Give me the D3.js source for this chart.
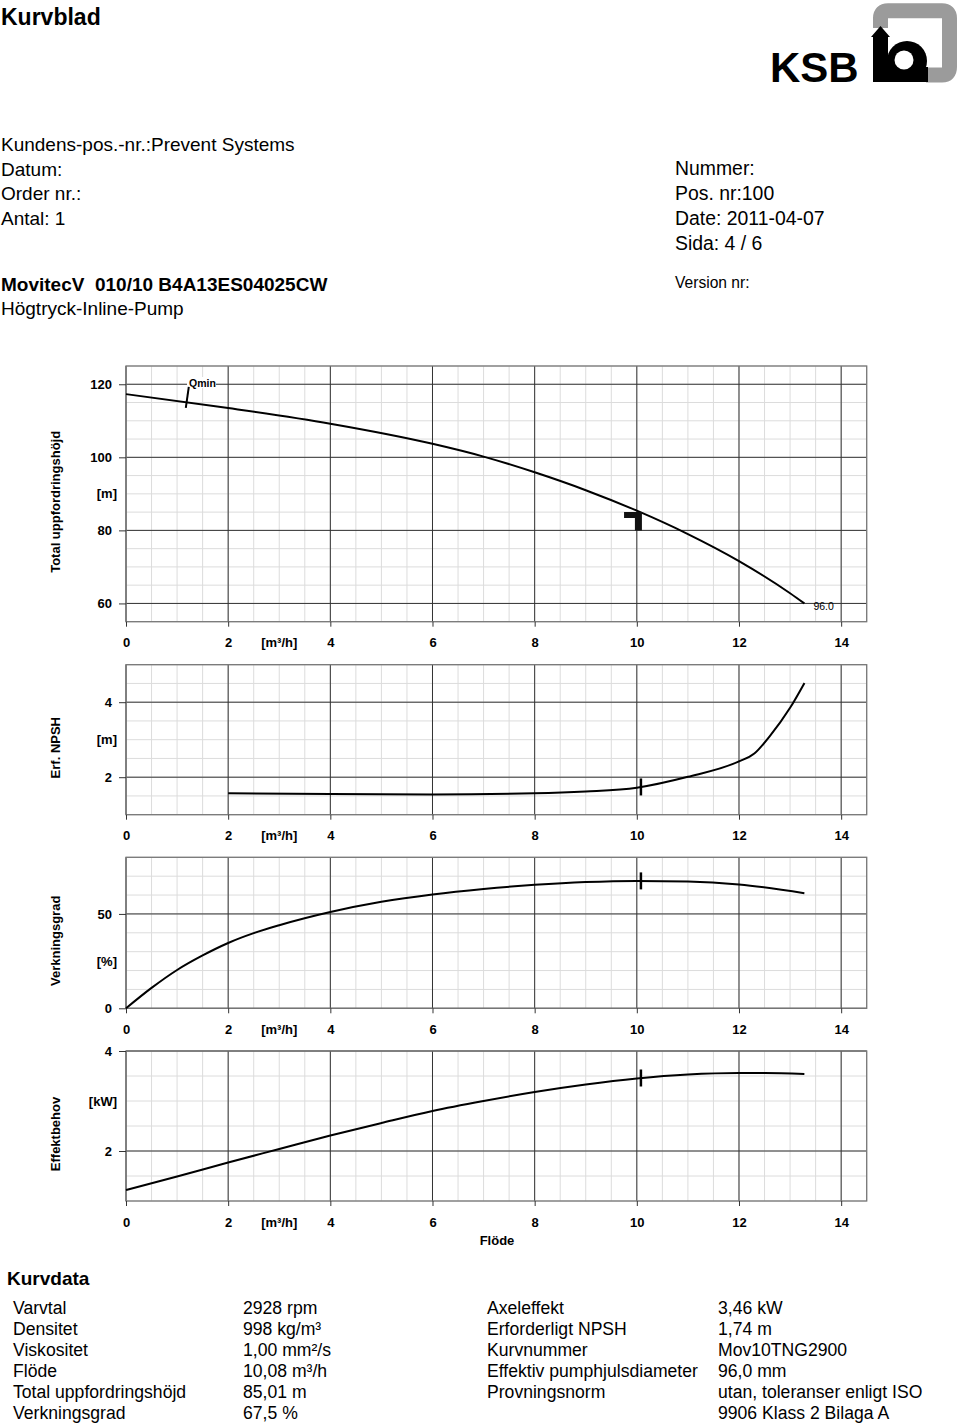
<!DOCTYPE html>
<html>
<head>
<meta charset="utf-8">
<script src="https://cdn.jsdelivr.net/npm/d3@7"></script>
<style>
  body { margin: 0; background: #fff; }
  svg text { font-family: "Liberation Sans", Arial, sans-serif; fill: #000; }
</style>
</head>
<body>
<svg id="sheet" width="960" height="1427"></svg>
<script>
// Flöde [m3/h] och kurvvärden avlästa från kurvbladet
const headQ = [0, 2, 4, 6, 7, 8, 9, 10, 11, 12, 13, 13.28];
const headH = [117.3, 113.5, 109.2, 103.7, 100.2, 95.9, 91.0, 85.4, 79.0, 71.6, 62.8, 60.0];

const npshQ = [2, 4, 6, 8, 9, 10, 11, 12, 12.3, 12.6, 13, 13.28];
const npshV = [1.57, 1.55, 1.54, 1.57, 1.62, 1.72, 2.01, 2.42, 2.63, 3.09, 3.85, 4.51];

const effQ = [0, 0.5, 1, 1.5, 2, 2.5, 3, 4, 5, 6, 7, 8, 9, 10, 11, 12, 13.28];
const effV = [0, 10.8, 20.3, 28.0, 34.6, 39.8, 44.0, 51.0, 56.4, 60.3, 63.2, 65.4, 66.9, 67.5, 67.2, 65.6, 61.0];

const powQ = [0, 1, 2, 3, 4, 5, 6, 7, 8, 9, 10, 11, 12, 12.5, 13.28];
const powV = [1.22, 1.49, 1.77, 2.04, 2.31, 2.56, 2.80, 3.00, 3.18, 3.33, 3.45, 3.53, 3.56, 3.56, 3.54];

// driftpunkt
const opQ = 10.08;
const opValues = { head: 85.01, npsh: 1.74, eff: 67.5, pow: 3.46 };
const tolQ = 9.75, tolH = 80.0;
const qmin = 1.2;
const diameterLabel = "96.0";

const flowTicks = [0, 2, 4, 6, 8, 10, 12, 14];
const flowUnit = "[m³/h]";

const headerLeft = ["Kundens-pos.-nr.:Prevent Systems", "Datum:", "Order nr.:", "Antal: 1"];
const headerRight = ["Nummer:", "Pos. nr:100", "Date: 2011-04-07", "Sida: 4 / 6"];

const tableLabelsL = ["Varvtal", "Densitet", "Viskositet", "Flöde", "Total uppfordringshöjd", "Verkningsgrad"];
const tableValuesL = ["2928 rpm", "998 kg/m³", "1,00 mm²/s", "10,08 m³/h", "85,01 m", "67,5 %"];
const tableLabelsR = ["Axeleffekt", "Erforderligt NPSH", "Kurvnummer", "Effektiv pumphjulsdiameter", "Provningsnorm", ""];
const tableValuesR = ["3,46 kW", "1,74 m", "Mov10TNG2900", "96,0 mm", "utan, toleranser enligt ISO", "9906 Klass 2 Bilaga A"];

const svg = d3.select("#sheet");

// ---- rubrik
svg.append("text").attr("x", 1).attr("y", 25)
    .attr("font-size", 23).attr("font-weight", "bold").text("Kurvblad");

headerLeft.forEach((t, i) => {
    svg.append("text").attr("x", 1).attr("y", 151 + i * 24.6)
        .attr("font-size", 19).text(t);
});
headerRight.forEach((t, i) => {
    svg.append("text").attr("x", 675).attr("y", 175 + i * 25)
        .attr("font-size", 19.4).text(t);
});
svg.append("text").attr("x", 675).attr("y", 288)
    .attr("font-size", 15.6).text("Version nr:");

svg.append("text").attr("x", 1).attr("y", 291)
    .attr("font-size", 19).attr("font-weight", "bold")
    .attr("xml:space", "preserve").text("MovitecV  010/10 B4A13ES04025CW");
svg.append("text").attr("x", 1).attr("y", 315)
    .attr("font-size", 19).text("Högtryck-Inline-Pump");

// ---- logotyp
const logo = svg.append("g");
logo.append("path")
    .attr("d", "M880.5 28 V18 Q880.5 10.7 888 10.7 H942 Q949.5 10.7 949.5 18 V67 Q949.5 75 942 75 H926")
    .attr("fill", "none").attr("stroke", "#9b9b9b").attr("stroke-width", 15);
logo.append("path")
    .attr("d", "M871 37 L880.5 26 L890 37 L888 37 L888 82 L873 82 L873 37 Z")
    .attr("fill", "#000");
logo.append("circle").attr("cx", 907).attr("cy", 61).attr("r", 20).attr("fill", "#000");
logo.append("rect").attr("x", 886).attr("y", 67).attr("width", 42).attr("height", 15).attr("fill", "#000");
logo.append("circle").attr("cx", 904).attr("cy", 60).attr("r", 9.5).attr("fill", "#fff");
logo.append("text").attr("x", 770).attr("y", 82)
    .attr("font-size", 42).attr("font-weight", "bold").text("KSB");

// ---- diagram
const x = d3.scaleLinear().domain([0, 14.5]).range([126, 866.7]);

const panels = [
    { key: "head", top: 366, bottom: 621.7, domain: [55, 125], major: [60, 80, 100, 120], step: 5,
      title: "Total uppfordringshöjd", unit: "[m]", unitAt: 90, q: headQ, v: headH },
    { key: "npsh", top: 664.7, bottom: 814.7, domain: [1, 5], major: [2, 4], step: 0.5,
      title: "Erf. NPSH", unit: "[m]", unitAt: 3, q: npshQ, v: npshV },
    { key: "eff", top: 857.3, bottom: 1008.3, domain: [0, 80], major: [0, 50], step: 10,
      title: "Verkningsgrad", unit: "[%]", unitAt: 25, q: effQ, v: effV },
    { key: "pow", top: 1051, bottom: 1201, domain: [1, 4], major: [2, 4], step: 0.5,
      title: "Effektbehov", unit: "[kW]", unitAt: 3, q: powQ, v: powV }
];

const minorQ = d3.range(0, 14.5001, 0.5);

panels.forEach(p => {
    const y = d3.scaleLinear().domain(p.domain).range([p.bottom, p.top]);
    p.y = y;
    const g = svg.append("g").attr("class", "panel-" + p.key);

    const minorV = d3.range(p.domain[0], p.domain[1] + 1e-6, p.step);

    // fina rutnät
    g.selectAll(".minx").data(minorQ).enter().append("line")
        .attr("x1", d => x(d)).attr("x2", d => x(d))
        .attr("y1", p.top).attr("y2", p.bottom)
        .attr("stroke", "#dcdcdc").attr("stroke-width", 1);
    g.selectAll(".miny").data(minorV).enter().append("line")
        .attr("x1", x(0)).attr("x2", x(14.5))
        .attr("y1", d => y(d)).attr("y2", d => y(d))
        .attr("stroke", "#dcdcdc").attr("stroke-width", 1);

    // grova rutnät
    g.selectAll(".majx").data(flowTicks).enter().append("line")
        .attr("x1", d => x(d)).attr("x2", d => x(d))
        .attr("y1", p.top).attr("y2", p.bottom)
        .attr("stroke", "#333").attr("stroke-width", 1);
    g.selectAll(".majy").data(p.major).enter().append("line")
        .attr("x1", x(0)).attr("x2", x(14.5))
        .attr("y1", d => y(d)).attr("y2", d => y(d))
        .attr("stroke", "#333").attr("stroke-width", 1);

    // ram
    g.append("rect")
        .attr("x", x(0)).attr("y", p.top)
        .attr("width", x(14.5) - x(0)).attr("height", p.bottom - p.top)
        .attr("fill", "none").attr("stroke", "#777").attr("stroke-width", 1.3);

    // axlar
    const ya = g.append("g").attr("transform", `translate(${x(0)},0)`)
        .call(d3.axisLeft(y).tickValues(p.major).tickSize(7).tickPadding(7).tickFormat(d3.format("")));
    ya.select(".domain").remove();
    ya.selectAll(".tick line").attr("stroke", "#333");
    ya.selectAll("text").attr("font-size", 13).attr("font-weight", "bold")
        .attr("font-family", "Liberation Sans, Arial, sans-serif").attr("fill", "#000");

    const xa = g.append("g").attr("transform", `translate(0,${p.bottom})`)
        .call(d3.axisBottom(x).tickValues(flowTicks).tickSize(5).tickPadding(11.5).tickFormat(d3.format("")));
    xa.select(".domain").remove();
    xa.selectAll(".tick line").attr("stroke", "#333");
    xa.selectAll("text").attr("font-size", 13).attr("font-weight", "bold")
        .attr("font-family", "Liberation Sans, Arial, sans-serif").attr("fill", "#000");

    g.append("text").attr("x", x(3)).attr("y", p.bottom + 25.7)
        .attr("text-anchor", "middle").attr("font-size", 13).attr("font-weight", "bold")
        .text(flowUnit);

    // titlar
    g.append("text").attr("x", 117).attr("y", y(p.unitAt) + 4.6)
        .attr("text-anchor", "end").attr("font-size", 13).attr("font-weight", "bold")
        .text(p.unit);
    g.append("text")
        .attr("transform", `translate(60,${(p.top + p.bottom) / 2 + 8}) rotate(-90)`)
        .attr("text-anchor", "middle").attr("font-size", 13).attr("font-weight", "bold")
        .text(p.title);

    // kurva
    const line = d3.line().curve(d3.curveMonotoneX)
        .x(d => x(d[0])).y(d => y(d[1]));
    g.append("path")
        .datum(p.q.map((q, i) => [q, p.v[i]]))
        .attr("d", line)
        .attr("fill", "none").attr("stroke", "#000").attr("stroke-width", 2);

    // driftpunkt
    if (p.key !== "head") {
        const yv = y(opValues[p.key]);
        g.append("line")
            .attr("x1", x(opQ)).attr("x2", x(opQ))
            .attr("y1", yv - 8.5).attr("y2", yv + 8.5)
            .attr("stroke", "#000").attr("stroke-width", 2.5);
    }
});

// uppfordringshöjd: toleransmarkering, Qmin och diameter
const head = panels[0];
const hg = svg.select(".panel-head");
const yo = head.y(opValues.head);
hg.append("path")
    .attr("d", `M${x(tolQ)} ${yo} H${x(opQ) + 1} V${head.y(tolH)} H${x(opQ) - 6} V${yo + 6} H${x(tolQ)} Z`)
    .attr("fill", "#111");

const qminY = head.y(116.0);
hg.append("rect").attr("x", 187).attr("y", 377).attr("width", 29).attr("height", 11).attr("fill", "#fff");
hg.append("text").attr("x", 189).attr("y", 387)
    .attr("font-size", 10.5).attr("font-weight", "bold").text("Qmin");
hg.append("line")
    .attr("x1", x(qmin) + 1.5).attr("x2", x(qmin) - 1.5)
    .attr("y1", qminY - 12).attr("y2", qminY + 9)
    .attr("stroke", "#000").attr("stroke-width", 2);

hg.append("text").attr("x", x(13.28) + 9).attr("y", head.y(60) + 7)
    .attr("font-size", 10.5).text(diameterLabel);

svg.append("text").attr("x", 497).attr("y", 1245)
    .attr("text-anchor", "middle").attr("font-size", 13).attr("font-weight", "bold")
    .text("Flöde");

// ---- kurvdata
svg.append("text").attr("x", 7).attr("y", 1285)
    .attr("font-size", 19).attr("font-weight", "bold").text("Kurvdata");

const rowY = i => 1314 + i * 21.06;
tableLabelsL.forEach((t, i) => svg.append("text").attr("x", 13).attr("y", rowY(i)).attr("font-size", 17.6).text(t));
tableValuesL.forEach((t, i) => svg.append("text").attr("x", 243).attr("y", rowY(i)).attr("font-size", 17.6).text(t));
tableLabelsR.forEach((t, i) => svg.append("text").attr("x", 487).attr("y", rowY(i)).attr("font-size", 17.6).text(t));
tableValuesR.forEach((t, i) => svg.append("text").attr("x", 718).attr("y", rowY(i)).attr("font-size", 17.6).text(t));
</script>
</body>
</html>
